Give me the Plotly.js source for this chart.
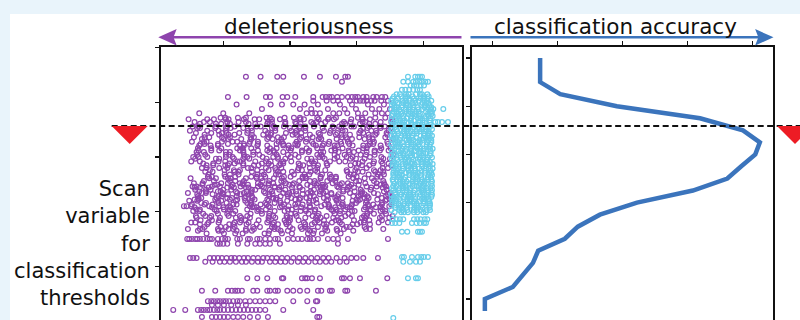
<!DOCTYPE html>
<html>
<head>
<meta charset="utf-8">
<script src="https://cdn.plot.ly/plotly-3.0.1.min.js"></script>
<style>
  html, body { margin: 0; padding: 0; overflow: hidden; width: 800px; height: 320px; background: #e9f4fb; }
  #chart { position: absolute; left: 10px; top: 14px; width: 790px; height: 350px; }
</style>
</head>
<body>
<div id="chart"></div>
<script>
// Variants outside the deleterious class: one row per scan-variable level,
// with the deleteriousness score of every variant found at that level.
const purpleScan = [4.47, 4.38, 4.10, 4.03, 3.96, 3.88, 3.80,
  3.72, 3.41, 3.09, 3.61, 3.28, 2.97, 3.48, 3.16, 3.69, 3.36, 3.04, 3.56, 3.24, 2.92, 3.44, 3.12, 3.64, 3.33,
  3.00, 3.53, 3.21,
  2.88, 2.85, 2.80, 2.76, 2.73,
  2.68, 2.49, 2.28, 2.08, 1.89, 2.61, 2.40, 2.20, 2.01, 1.80, 2.52, 2.32, 2.13, 1.92, 2.64, 2.44, 2.25, 2.04,
  1.84, 2.56, 2.37, 2.16, 1.96,
  1.77, 1.72, 1.68, 1.65, 1.60,
  1.50, 1.41, 1.15, 1.08, 0.78, 0.55, 0.36, 0.29, 0.20, 0.07,
  2.46, 2.34, 2.22, 2.10];
const purpleScore = [
  [134, 156, 181, 190, 221, 245, 269, 283, 287],
  [278],
  [107, 135, 164, 170, 189, 196, 208, 235, 249, 254, 259, 263, 271, 278, 287, 293, 298, 302, 310, 315, 325, 330, 338, 343],
  [235, 255, 265, 272, 290, 300, 305, 310, 315, 322, 327, 337, 347],
  [120, 171, 188, 205, 222, 242, 275, 293, 317, 341],
  [158, 215, 232, 257, 282, 299, 323, 334, 350],
  [64, 100, 139, 225, 233, 238, 245, 265, 274, 286, 302, 313, 328, 338, 347],
  [96, 103, 122, 134, 165, 170, 192, 206, 215, 241, 258, 269, 302, 308, 328, 343],
  [72, 94, 108, 117, 143, 160, 171, 204, 210, 230, 245, 269, 277, 290, 318, 328, 346],
  [60, 71, 104, 110, 130, 145, 169, 177, 190, 218, 228, 246, 250, 273, 289, 296, 315, 327],
  [65, 89, 97, 110, 138, 148, 166, 170, 193, 209, 216, 235, 247, 278, 283, 305, 319, 328, 354],
  [53, 71, 75, 98, 114, 121, 140, 152, 183, 188, 210, 224, 233, 259, 276, 287, 320, 326, 346],
  [58, 89, 94, 116, 130, 139, 165, 182, 193, 226, 232, 252, 267, 291, 299, 312, 340, 350],
  [50, 76, 93, 104, 137, 143, 163, 178, 202, 210, 223, 251, 261, 279, 283, 306, 322, 329, 348],
  [62, 82, 97, 121, 129, 142, 170, 180, 198, 202, 225, 241, 248, 267, 279, 310, 315, 337, 351],
  [48, 76, 86, 104, 108, 131, 147, 154, 173, 185, 216, 221, 243, 257, 266, 292, 309, 320, 353],
  [56, 72, 79, 98, 110, 141, 146, 168, 182, 191, 217, 234, 245, 278, 284, 304, 319, 343],
  [61, 73, 104, 109, 131, 145, 154, 180, 197, 208, 241, 247, 267, 282, 306, 314, 327, 355],
  [54, 63, 89, 106, 117, 150, 156, 176, 191, 215, 223, 236, 264, 274, 292, 296, 319, 335, 342],
  [66, 72, 92, 107, 131, 139, 152, 180, 190, 208, 212, 235, 251, 258, 277, 289, 320, 325, 347],
  [52, 65, 93, 103, 121, 125, 148, 164, 171, 190, 202, 233, 238, 260, 274, 283, 309, 326, 337],
  [59, 82, 98, 105, 124, 136, 167, 172, 194, 208, 217, 243, 260, 271, 304, 310, 330, 345],
  [63, 82, 94, 125, 130, 152, 166, 175, 201, 218, 229, 262, 268, 288, 303, 327, 335, 348],
  [57, 71, 80, 106, 123, 134, 167, 173, 193, 208, 232, 240, 253, 281, 291, 309, 313, 336, 352],
  [68, 101, 107, 127, 142, 166, 174, 187, 215, 225, 243, 247, 270, 286, 293, 312, 324, 355],
  [55, 63, 76, 104, 114, 132, 136, 159, 175, 182, 201, 213, 244, 249, 271, 285, 294, 320, 337],
  [61, 65, 88, 104, 111, 130, 142, 173, 178, 200, 214, 223, 249, 266, 277, 310, 316, 336, 351],
  [64, 81, 92, 125, 131, 151, 166, 190, 198, 211, 239, 249, 267, 271, 294, 310, 317, 336],
  [70, 85, 109, 117, 130, 158, 168, 186, 190, 213, 229, 236, 255, 298, 303, 325, 339, 348],
  [75, 85, 103, 107, 130, 146, 153, 172, 184, 215, 220, 242, 256, 291, 308, 319, 352],
  [68, 75, 94, 106, 137, 142, 164, 178, 187, 213, 230, 241, 300, 315, 339, 347],
  [80, 102, 116, 125, 151, 168, 179, 212, 218, 238, 253, 285, 298, 326, 336],
  [73, 84, 117, 123, 143, 158, 182, 190, 203, 231, 241, 286, 302, 309, 328, 340],
  [78, 102, 110, 123, 151, 161, 179, 183, 206, 222, 229, 248, 260, 291, 296, 318, 332, 341],
  [69, 87, 91, 114, 130, 137, 156, 168, 199, 204, 226, 240, 249, 275, 292, 303, 336, 342],
  [62, 93, 98, 120, 134, 143, 169, 186, 197, 230, 236, 256, 271, 295, 303, 316, 344, 354],
  [57, 83, 100, 111, 144, 150, 170, 185, 209, 217, 230, 258, 268, 286, 290, 313, 329, 336],
  [60, 80, 95, 119, 127, 140, 168, 178, 196, 200, 223, 239, 246, 265, 277, 308, 313, 335, 349],
  [51, 79, 89, 107, 111, 134, 150, 157, 176, 188, 219, 224, 246, 260, 269, 295, 312, 323],
  [58, 74, 81, 100, 112, 143, 148, 170, 184, 193, 219, 236, 247, 280, 286, 306, 321, 345],
  [49, 61, 92, 97, 119, 133, 142, 168, 185, 196, 229, 235, 255, 270, 294, 302, 315, 343, 353],
  [55, 64, 90, 107, 118, 151, 157, 177, 192, 216, 224, 237, 265, 275, 293, 297, 320, 336, 343],
  [52, 58, 78, 93, 117, 125, 138, 166, 176, 194, 198, 221, 237, 244, 263, 275, 306, 311, 333, 347],
  [56, 69, 97, 107, 125, 129, 152, 168, 175, 194, 206, 237, 242, 264, 278, 287, 313, 330, 341],
  [61, 84, 100, 107, 126, 138, 169, 174, 196, 210, 219, 245, 262, 273, 306, 312, 332, 347],
  [53, 72, 84, 115, 120, 142, 156, 165, 191, 208, 219, 252, 258, 278, 293, 317, 325, 338, 352],
  [59, 73, 82, 108, 125, 136, 169, 175, 195, 210, 234, 242, 255, 283, 293, 311, 315, 338, 354],
  [77, 83, 103, 118, 142, 150, 163, 191, 201, 219, 223, 246, 262, 269, 288, 300, 331, 336],
  [57, 65, 78, 106, 116, 134, 138, 161, 177, 184, 203, 215, 246, 251, 273, 287, 296, 322, 339],
  [63, 67, 90, 106, 113, 132, 144, 175, 180, 202, 216, 225, 251, 268, 279, 312, 318, 338, 353],
  [60, 65, 87, 101, 110, 136, 153, 164, 197, 203, 223, 238, 262, 270, 283, 311, 321, 339],
  [66, 83, 94, 127, 133, 153, 168, 192, 200, 213, 241, 251, 269, 273, 296, 312, 319, 338],
  [71, 86, 110, 118, 131, 159, 169, 187, 191, 214, 230, 237, 256, 268, 299, 304, 326, 340],
  [64, 74, 92, 96, 119, 135, 142, 161, 173, 204, 209, 231, 245, 254, 280, 297, 308, 341],
  [67, 74, 93, 105, 136, 141, 163, 177, 186, 212, 229, 240, 273, 279, 299, 314, 338],
  [70, 92, 106, 115, 141, 158, 169, 202, 208, 228, 243, 267, 275, 288, 316, 326, 344],
  [65, 76, 109, 115, 135, 150, 174, 182, 195, 223, 233, 251, 255, 278, 294, 301, 320],
  [72, 96, 104, 117, 145, 155, 173, 177, 200, 216, 223, 242, 254, 285, 290, 312],
  [47, 65, 69, 92, 108, 115, 134, 146, 177, 182, 204, 218, 227, 253, 270, 281, 314, 320, 340],
  [62, 93, 98, 120, 134, 143, 169, 186, 197, 230, 236, 256, 271, 295],
  [75, 101, 118, 129, 162, 168, 188, 203, 227, 235, 248, 276],
  [46, 49, 53, 58, 61, 65, 70, 76, 80, 83, 92, 98, 103, 107, 121, 125, 137, 140, 151, 155, 163, 170, 178, 182, 197, 205, 212, 218, 226, 230, 235, 242, 257, 265, 272, 287, 347],
  [91, 95, 100, 106, 122, 136, 148, 155, 163, 170, 185, 272],
  [50, 55, 60, 80, 86, 92, 98, 105, 112, 117, 124, 131, 137, 145, 152, 160, 166, 173, 180, 188, 196, 205, 214, 223, 232, 241, 250, 258, 270, 282, 292, 300, 310, 332],
  [73, 84, 95, 102, 110, 119, 128, 134, 143, 152, 158, 170, 178, 186, 193, 202, 212, 220, 228, 238, 245, 254, 262, 275, 285],
  [136, 151, 166, 188, 190, 218, 223, 226, 233, 245, 278, 281, 290, 305, 346],
  [68, 88, 107, 113, 118, 122, 128, 145, 151, 166, 170, 178, 182, 196, 205, 215, 226, 242, 247, 260, 263, 283, 286, 329],
  [77, 82, 86, 91, 95, 100, 104, 109, 115, 121, 125, 133, 140, 148, 155, 163, 170, 178, 205, 226, 239, 241],
  [83, 92, 101, 112, 122, 134],
  [25, 43, 62, 67, 71, 76, 80, 86, 91, 95, 101, 107, 113, 119, 125, 131, 137, 143, 149, 155, 163, 190, 235],
  [68, 83, 89, 95, 101, 107, 115, 122, 130, 140, 152, 167, 241, 244],
  [54, 60, 83, 95, 112, 126, 152, 158, 177, 187, 214, 231, 249, 253, 271, 289, 315, 330, 344],
  [47, 68, 74, 99, 121, 131, 142, 163, 190, 199, 227, 233, 250, 262, 290, 308, 326, 350],
  [57, 63, 88, 110, 121, 147, 166, 179, 208, 214, 239, 257, 270, 300, 305, 331, 345],
  [41, 45, 52, 79, 94, 109, 140, 146, 168, 188, 198, 230, 247, 259, 280, 292, 318, 336, 349]
];

// Variants of the deleterious class, same layout.
const cyanScan = [4.47, 4.38, 4.31, 4.23,
  4.15, 4.11, 4.07, 4.03, 3.99, 3.95, 3.91, 3.88, 3.87, 3.83, 3.79, 3.75, 3.71, 3.67, 3.64, 3.63, 3.59, 3.55,
  3.51, 3.47, 3.43, 3.39, 3.35, 3.31, 3.27, 3.23, 3.19, 3.15, 3.11, 3.07, 3.03, 2.99, 2.95, 2.91, 2.87, 2.83,
  2.79, 2.75, 2.71, 2.67, 2.63, 2.59, 2.55, 2.51, 2.47, 2.43, 2.39, 2.35, 2.31, 2.27, 2.23, 2.19, 2.15, 2.11,
  2.07, 2.03, 1.99, 1.86, 1.79, 1.63, 1.17, 1.08, 0.78, 0.05];
const cyanScore = [
  [377, 388, 392, 395, 398],
  [370, 377, 385, 389, 394, 398, 403, 407],
  [381, 386, 390, 396, 401],
  [368, 373, 379, 385, 391, 395],
  [360, 365, 374, 378, 389, 395, 398, 406],
  [356, 367, 373, 376, 384, 396, 401, 408],
  [354, 362, 374, 379, 386, 396, 400, 406],
  [352, 359, 369, 373, 379, 388, 393, 402, 406, 412],
  [355, 361, 370, 375, 384, 388, 399, 405, 408],
  [353, 357, 368, 374, 377, 385, 397, 402, 409],
  [357, 360, 368, 380, 385, 392, 402, 406, 412],
  [415, 430],
  [352, 357, 364, 374, 378, 384, 393, 398, 407, 411],
  [356, 360, 366, 375, 380, 389, 393, 404, 410, 413],
  [354, 363, 367, 378, 384, 387, 395, 407, 412],
  [353, 359, 362, 370, 382, 387, 394, 404, 408, 414],
  [358, 370, 375, 382, 392, 396, 402, 411],
  [352, 362, 366, 372, 381, 386, 395, 399, 410],
  [418, 422, 428, 437],
  [355, 364, 369, 378, 382, 393, 399, 402, 410],
  [353, 358, 367, 371, 382, 388, 391, 399, 411],
  [358, 369, 375, 378, 386, 398, 403, 410],
  [352, 360, 372, 377, 384, 394, 398, 404, 413],
  [354, 361, 371, 375, 381, 390, 395, 404, 408],
  [357, 363, 372, 377, 386, 390, 401, 407, 410],
  [352, 356, 367, 373, 376, 384, 396, 401, 408, 413],
  [355, 358, 366, 378, 383, 390, 400, 404, 410],
  [353, 358, 365, 375, 379, 385, 394, 399, 408, 412],
  [358, 362, 368, 377, 382, 391, 395, 406, 412],
  [352, 361, 365, 376, 382, 385, 393, 405, 410],
  [354, 360, 363, 371, 383, 388, 395, 405, 409],
  [357, 369, 374, 381, 391, 395, 401, 410, 414],
  [353, 363, 367, 373, 382, 387, 396, 400, 411],
  [356, 365, 370, 379, 383, 394, 400, 403, 411],
  [352, 357, 366, 370, 381, 387, 390, 398, 410],
  [355, 366, 372, 375, 383, 395, 400, 407, 413],
  [353, 361, 373, 378, 385, 395, 399, 405],
  [356, 363, 373, 377, 383, 392, 397, 406, 410],
  [354, 360, 369, 374, 383, 387, 398, 404, 407, 414],
  [354, 358, 369, 375, 378, 386, 398, 403, 410],
  [359, 362, 370, 382, 387, 394, 404, 408, 414],
  [356, 361, 368, 378, 382, 388, 397, 402, 411],
  [355, 359, 365, 374, 379, 388, 392, 403, 409, 412],
  [355, 364, 368, 379, 385, 388, 396, 408, 413],
  [356, 362, 365, 373, 385, 390, 397, 407, 411],
  [354, 366, 371, 378, 388, 392, 398, 407, 412],
  [355, 365, 369, 375, 384, 389, 398, 402, 413],
  [357, 366, 371, 380, 384, 395, 401, 404, 412],
  [355, 360, 369, 373, 384, 390, 393, 401, 413],
  [353, 364, 370, 373, 381, 393, 398, 405, 411],
  [355, 363, 375, 380, 387, 397, 401, 407, 413],
  [358, 365, 375, 379, 385, 394, 399, 408, 412],
  [352, 358, 367, 372, 381, 385, 396, 402, 405, 413],
  [356, 360, 371, 377, 380, 388, 400, 405, 412],
  [353, 356, 364, 376, 381, 388, 398, 402, 408],
  [354, 359, 366, 376, 380, 386, 395, 400, 409],
  [353, 357, 363, 372, 377, 386, 390, 401, 407, 410],
  [357, 366, 370, 381, 387, 390, 398, 410],
  [358, 364, 367, 375, 387, 392, 399, 409],
  [352, 364, 369, 376, 386, 390, 396, 405, 410],
  [357, 367, 371, 377, 386, 391, 400, 404],
  [354, 360, 365, 370, 386, 391, 396, 402, 406],
  [353, 358, 364, 383, 390, 395, 401, 404],
  [368, 376, 392, 395, 398],
  [368, 371, 383, 392, 397, 401, 407],
  [370, 380, 389, 395],
  [377, 389, 392],
  [355]
];

// Classification accuracy obtained with each threshold on the scan variable
const accScan = [5.0, 4.75, 4.5, 4.25, 4.0, 3.75, 3.5, 3.25, 3.0, 2.75, 2.5, 2.25, 2.0, 1.75, 1.5, 1.25, 1.0, 0.75, 0.5, 0.25, 0.0, -0.25];
const accuracy = [0.573, 0.573, 0.573, 0.604, 0.691, 0.819, 0.885, 0.911, 0.904, 0.882, 0.861, 0.808, 0.722, 0.665, 0.631, 0.611, 0.570, 0.562, 0.547, 0.531, 0.488, 0.488];

// Chosen threshold on the scan variable
const threshold = 3.57;

const scoreTicks = [100, 200, 300, 400];
const scanTicks = [0, 1, 2, 3, 4, 5];
const accTicks = [0.5, 0.6, 0.7, 0.8, 0.9];

const titleLeft = 'deleteriousness';
const titleRight = 'classification accuracy';
const scanLabel = 'Scan<br>variable<br>for<br>classification<br>thresholds';

const PURPLE = '#8e44ad';
const CYAN = '#66cdea';
const BLUE = '#3b74bc';
const RED = '#ed1c24';
const INK = '#111111';

function unroll(levels, rows) {
  const x = [], y = [];
  rows.forEach((row, i) => row.forEach(v => { x.push(v); y.push(levels[i]); }));
  return { x, y };
}
const purple = unroll(purpleScan, purpleScore);
const cyan = unroll(cyanScan, cyanScore);

const marker = c => ({ symbol: 'circle-open', size: 4.8, color: c, line: { width: 1.2, color: c } });

const traces = [
  { type: 'scatter', mode: 'markers', x: purple.x, y: purple.y, xaxis: 'x', yaxis: 'y', marker: marker(PURPLE), hoverinfo: 'skip' },
  { type: 'scatter', mode: 'markers', x: cyan.x, y: cyan.y, xaxis: 'x', yaxis: 'y', marker: marker(CYAN), hoverinfo: 'skip' },
  { type: 'scatter', mode: 'lines', x: accuracy, y: accScan, xaxis: 'x2', yaxis: 'y2', line: { color: BLUE, width: 4.5 }, hoverinfo: 'skip' }
];

const frame = {
  showline: true, mirror: true, linecolor: INK, linewidth: 2,
  ticks: 'outside', ticklen: 4, tickwidth: 1.3, tickcolor: INK,
  showticklabels: false, showgrid: false, zeroline: false, fixedrange: true
};
const yDomain = [0.0543, 0.9057];

const titleFont = { family: 'DejaVu Sans, sans-serif', size: 21.5, color: INK };
const labelFont = { family: 'DejaVu Sans, sans-serif', size: 21, color: INK };

// arrowhead outlines (pixels around the tip) and the threshold marker
const headLeft = 'M0,0 L18.4,8.2 L15.2,0 L18.4,-8.2 Z';
const headRight = 'M0,0 L-18.4,8.2 L-15.2,0 L-18.4,-8.2 Z';
const markDown = 'M-18,0 L18,0 L0,-18 Z';
const arrowY = 0.9334;

const layout = {
  width: 790, height: 350,
  margin: { l: 0, r: 0, t: 0, b: 0 },
  paper_bgcolor: '#ffffff', plot_bgcolor: '#ffffff',
  showlegend: false,
  xaxis: Object.assign({}, frame, { domain: [0.1911, 0.5722], range: [6.6, 458.1], side: 'top', tickvals: scoreTicks, anchor: 'y' }),
  yaxis: Object.assign({}, frame, { domain: yDomain, range: [-0.443, 5.015], tickvals: scanTicks, anchor: 'x' }),
  xaxis2: Object.assign({}, frame, { domain: [0.5848, 0.9658], range: [0.4682, 0.9312], side: 'top', tickvals: accTicks, anchor: 'y2' }),
  yaxis2: Object.assign({}, frame, { domain: yDomain, range: [-0.954, 5.228], tickvals: scanTicks, anchor: 'x2' }),
  shapes: [
    { type: 'line', xref: 'paper', yref: 'y', x0: 0.1287, x1: 1, y0: threshold, y1: threshold,
      line: { color: INK, width: 2, dash: '6px,3.5px' } },
    { type: 'path', xref: 'paper', yref: 'y', xsizemode: 'pixel', ysizemode: 'pixel',
      xanchor: 0.1515, yanchor: threshold, path: markDown, fillcolor: RED, line: { width: 0 } },
    { type: 'path', xref: 'paper', yref: 'y', xsizemode: 'pixel', ysizemode: 'pixel',
      xanchor: 0.9937, yanchor: threshold, path: markDown, fillcolor: RED, line: { width: 0 } },
    { type: 'line', xref: 'paper', yref: 'paper', x0: 0.200, x1: 0.5715, y0: arrowY, y1: arrowY,
      line: { color: PURPLE, width: 2.5 } },
    { type: 'path', xref: 'paper', yref: 'paper', xsizemode: 'pixel', ysizemode: 'pixel',
      xanchor: 0.1877, yanchor: arrowY, path: headLeft, fillcolor: PURPLE, line: { width: 0 } },
    { type: 'line', xref: 'paper', yref: 'paper', x0: 0.5829, x1: 0.952, y0: arrowY, y1: arrowY,
      line: { color: BLUE, width: 2.5 } },
    { type: 'path', xref: 'paper', yref: 'paper', xsizemode: 'pixel', ysizemode: 'pixel',
      xanchor: 0.9665, yanchor: arrowY, path: headRight, fillcolor: BLUE, line: { width: 0 } }
  ],
  annotations: [
    { text: titleLeft, xref: 'paper', yref: 'paper', x: 0.3781, y: 0.9657, xanchor: 'center', yanchor: 'middle', showarrow: false, font: titleFont },
    { text: titleRight, xref: 'paper', yref: 'paper', x: 0.7667, y: 0.9657, xanchor: 'center', yanchor: 'middle', showarrow: false, font: titleFont },
    { text: scanLabel, xref: 'paper', yref: 'paper', x: 0.1797, y: 0.3429, xanchor: 'right', yanchor: 'middle', align: 'right', showarrow: false, font: labelFont }
  ]
};

Plotly.newPlot('chart', traces, layout, { staticPlot: true, displayModeBar: false });
</script>
</body>
</html>
